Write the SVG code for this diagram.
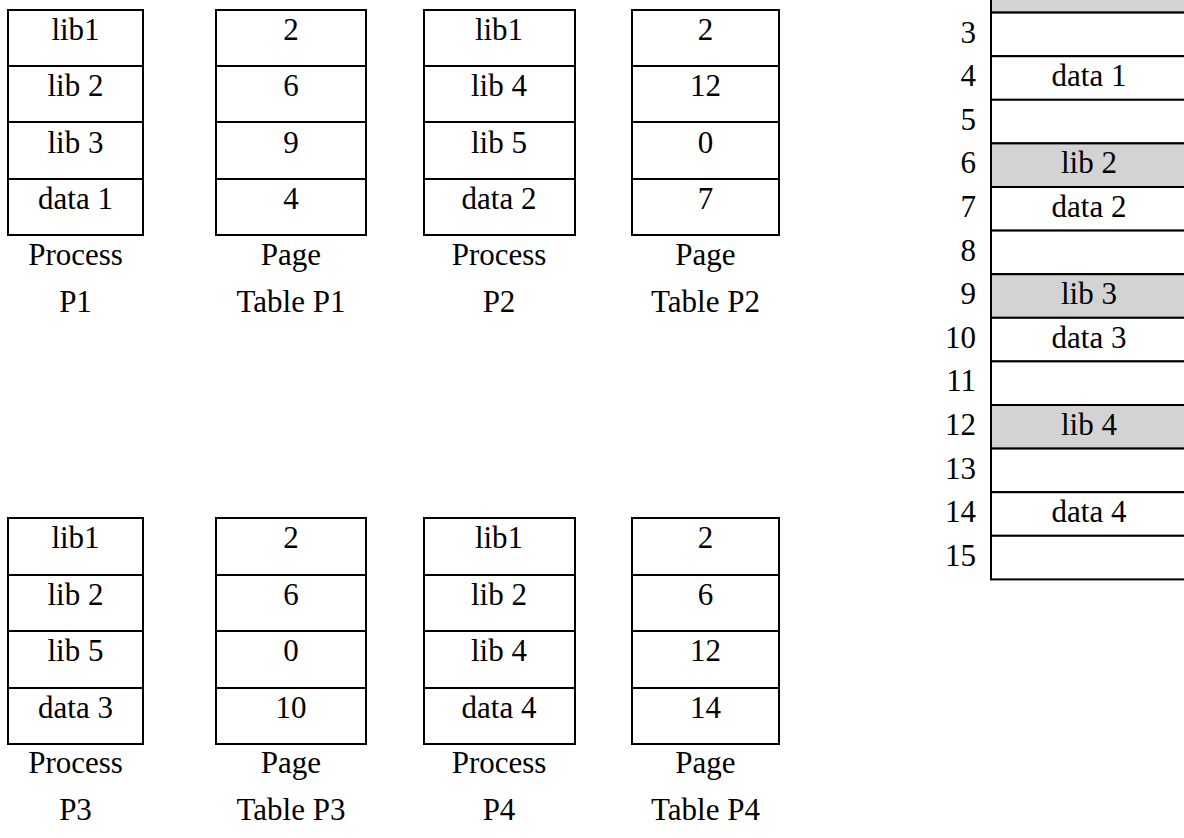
<svg xmlns="http://www.w3.org/2000/svg" width="1184" height="838" viewBox="0 0 1184 838">
<style>
.cell{fill:#ffffff;stroke:#000000;stroke-width:2}
.gray{fill:#d3d3d3;stroke:#000000;stroke-width:2}
text{font-family:"Liberation Serif","Times New Roman",serif;font-size:31px;fill:#000000}
.c{text-anchor:middle}
.r{text-anchor:end}
</style>
<rect x="0" y="0" width="1184" height="838" fill="#ffffff"/>

<!-- Top row -->
<g id="process-p1">
<rect class="cell" x="8" y="10" width="135" height="56"/>
<rect class="cell" x="8" y="66" width="135" height="56"/>
<rect class="cell" x="8" y="122" width="135" height="57"/>
<rect class="cell" x="8" y="179" width="135" height="56"/>
<text class="c" x="75.5" y="40">lib1</text>
<text class="c" x="75.5" y="96">lib 2</text>
<text class="c" x="75.5" y="152.5">lib 3</text>
<text class="c" x="75.5" y="209">data 1</text>
<text class="c" x="75.5" y="265">Process</text>
<text class="c" x="75.5" y="312">P1</text>
</g>

<g id="table-p1">
<rect class="cell" x="216" y="10" width="150" height="56"/>
<rect class="cell" x="216" y="66" width="150" height="56"/>
<rect class="cell" x="216" y="122" width="150" height="57"/>
<rect class="cell" x="216" y="179" width="150" height="56"/>
<text class="c" x="291" y="40">2</text>
<text class="c" x="291" y="96">6</text>
<text class="c" x="291" y="152.5">9</text>
<text class="c" x="291" y="209">4</text>
<text class="c" x="291" y="265">Page</text>
<text class="c" x="291" y="312">Table P1</text>
</g>

<g id="process-p2">
<rect class="cell" x="424" y="10" width="151" height="56"/>
<rect class="cell" x="424" y="66" width="151" height="56"/>
<rect class="cell" x="424" y="122" width="151" height="57"/>
<rect class="cell" x="424" y="179" width="151" height="56"/>
<text class="c" x="499" y="40">lib1</text>
<text class="c" x="499" y="96">lib 4</text>
<text class="c" x="499" y="152.5">lib 5</text>
<text class="c" x="499" y="209">data 2</text>
<text class="c" x="499" y="265">Process</text>
<text class="c" x="499" y="312">P2</text>
</g>

<g id="table-p2">
<rect class="cell" x="632" y="10" width="147" height="56"/>
<rect class="cell" x="632" y="66" width="147" height="56"/>
<rect class="cell" x="632" y="122" width="147" height="57"/>
<rect class="cell" x="632" y="179" width="147" height="56"/>
<text class="c" x="705.5" y="40">2</text>
<text class="c" x="705.5" y="96">12</text>
<text class="c" x="705.5" y="152.5">0</text>
<text class="c" x="705.5" y="209">7</text>
<text class="c" x="705.5" y="265">Page</text>
<text class="c" x="705.5" y="312">Table P2</text>
</g>

<!-- Bottom row -->
<g id="process-p3">
<rect class="cell" x="8" y="518" width="135" height="57"/>
<rect class="cell" x="8" y="575" width="135" height="56"/>
<rect class="cell" x="8" y="631" width="135" height="57"/>
<rect class="cell" x="8" y="688" width="135" height="56"/>
<text class="c" x="75.5" y="548">lib1</text>
<text class="c" x="75.5" y="604.5">lib 2</text>
<text class="c" x="75.5" y="661">lib 5</text>
<text class="c" x="75.5" y="718">data 3</text>
<text class="c" x="75.5" y="773">Process</text>
<text class="c" x="75.5" y="820">P3</text>
</g>

<g id="table-p3">
<rect class="cell" x="216" y="518" width="150" height="57"/>
<rect class="cell" x="216" y="575" width="150" height="56"/>
<rect class="cell" x="216" y="631" width="150" height="57"/>
<rect class="cell" x="216" y="688" width="150" height="56"/>
<text class="c" x="291" y="548">2</text>
<text class="c" x="291" y="604.5">6</text>
<text class="c" x="291" y="661">0</text>
<text class="c" x="291" y="718">10</text>
<text class="c" x="291" y="773">Page</text>
<text class="c" x="291" y="820">Table P3</text>
</g>

<g id="process-p4">
<rect class="cell" x="424" y="518" width="151" height="57"/>
<rect class="cell" x="424" y="575" width="151" height="56"/>
<rect class="cell" x="424" y="631" width="151" height="57"/>
<rect class="cell" x="424" y="688" width="151" height="56"/>
<text class="c" x="499" y="548">lib1</text>
<text class="c" x="499" y="604.5">lib 2</text>
<text class="c" x="499" y="661">lib 4</text>
<text class="c" x="499" y="718">data 4</text>
<text class="c" x="499" y="773">Process</text>
<text class="c" x="499" y="820">P4</text>
</g>

<g id="table-p4">
<rect class="cell" x="632" y="518" width="147" height="57"/>
<rect class="cell" x="632" y="575" width="147" height="56"/>
<rect class="cell" x="632" y="631" width="147" height="57"/>
<rect class="cell" x="632" y="688" width="147" height="56"/>
<text class="c" x="705.5" y="548">2</text>
<text class="c" x="705.5" y="604.5">6</text>
<text class="c" x="705.5" y="661">12</text>
<text class="c" x="705.5" y="718">14</text>
<text class="c" x="705.5" y="773">Page</text>
<text class="c" x="705.5" y="820">Table P4</text>
</g>

<!-- Physical memory -->
<g id="memory">
<rect class="gray" x="991" y="-31" width="200" height="43.6"/>
<rect class="cell" x="991" y="12.6" width="200" height="43.6"/>
<rect class="cell" x="991" y="56.2" width="200" height="43.6"/>
<rect class="cell" x="991" y="99.8" width="200" height="43.6"/>
<rect class="gray" x="991" y="143.4" width="200" height="43.6"/>
<rect class="cell" x="991" y="187" width="200" height="43.6"/>
<rect class="cell" x="991" y="230.6" width="200" height="43.6"/>
<rect class="gray" x="991" y="274.2" width="200" height="43.6"/>
<rect class="cell" x="991" y="317.8" width="200" height="43.6"/>
<rect class="cell" x="991" y="361.4" width="200" height="43.6"/>
<rect class="gray" x="991" y="405" width="200" height="43.6"/>
<rect class="cell" x="991" y="448.6" width="200" height="43.6"/>
<rect class="cell" x="991" y="492.2" width="200" height="43.6"/>
<rect class="cell" x="991" y="535.8" width="200" height="43.6"/>
<text class="r" x="976" y="42.6">3</text>
<text class="r" x="976" y="86.2">4</text>
<text class="r" x="976" y="129.8">5</text>
<text class="r" x="976" y="173.4">6</text>
<text class="r" x="976" y="217">7</text>
<text class="r" x="976" y="260.6">8</text>
<text class="r" x="976" y="304.2">9</text>
<text class="r" x="976" y="347.8">10</text>
<text class="r" x="976" y="391.4">11</text>
<text class="r" x="976" y="435">12</text>
<text class="r" x="976" y="478.6">13</text>
<text class="r" x="976" y="522.2">14</text>
<text class="r" x="976" y="565.8">15</text>
<text class="c" x="1089" y="86.2">data 1</text>
<text class="c" x="1089" y="173.4">lib 2</text>
<text class="c" x="1089" y="217">data 2</text>
<text class="c" x="1089" y="304.2">lib 3</text>
<text class="c" x="1089" y="347.8">data 3</text>
<text class="c" x="1089" y="435">lib 4</text>
<text class="c" x="1089" y="522.2">data 4</text>
</g>

<g id="connectors"></g>
</svg>
